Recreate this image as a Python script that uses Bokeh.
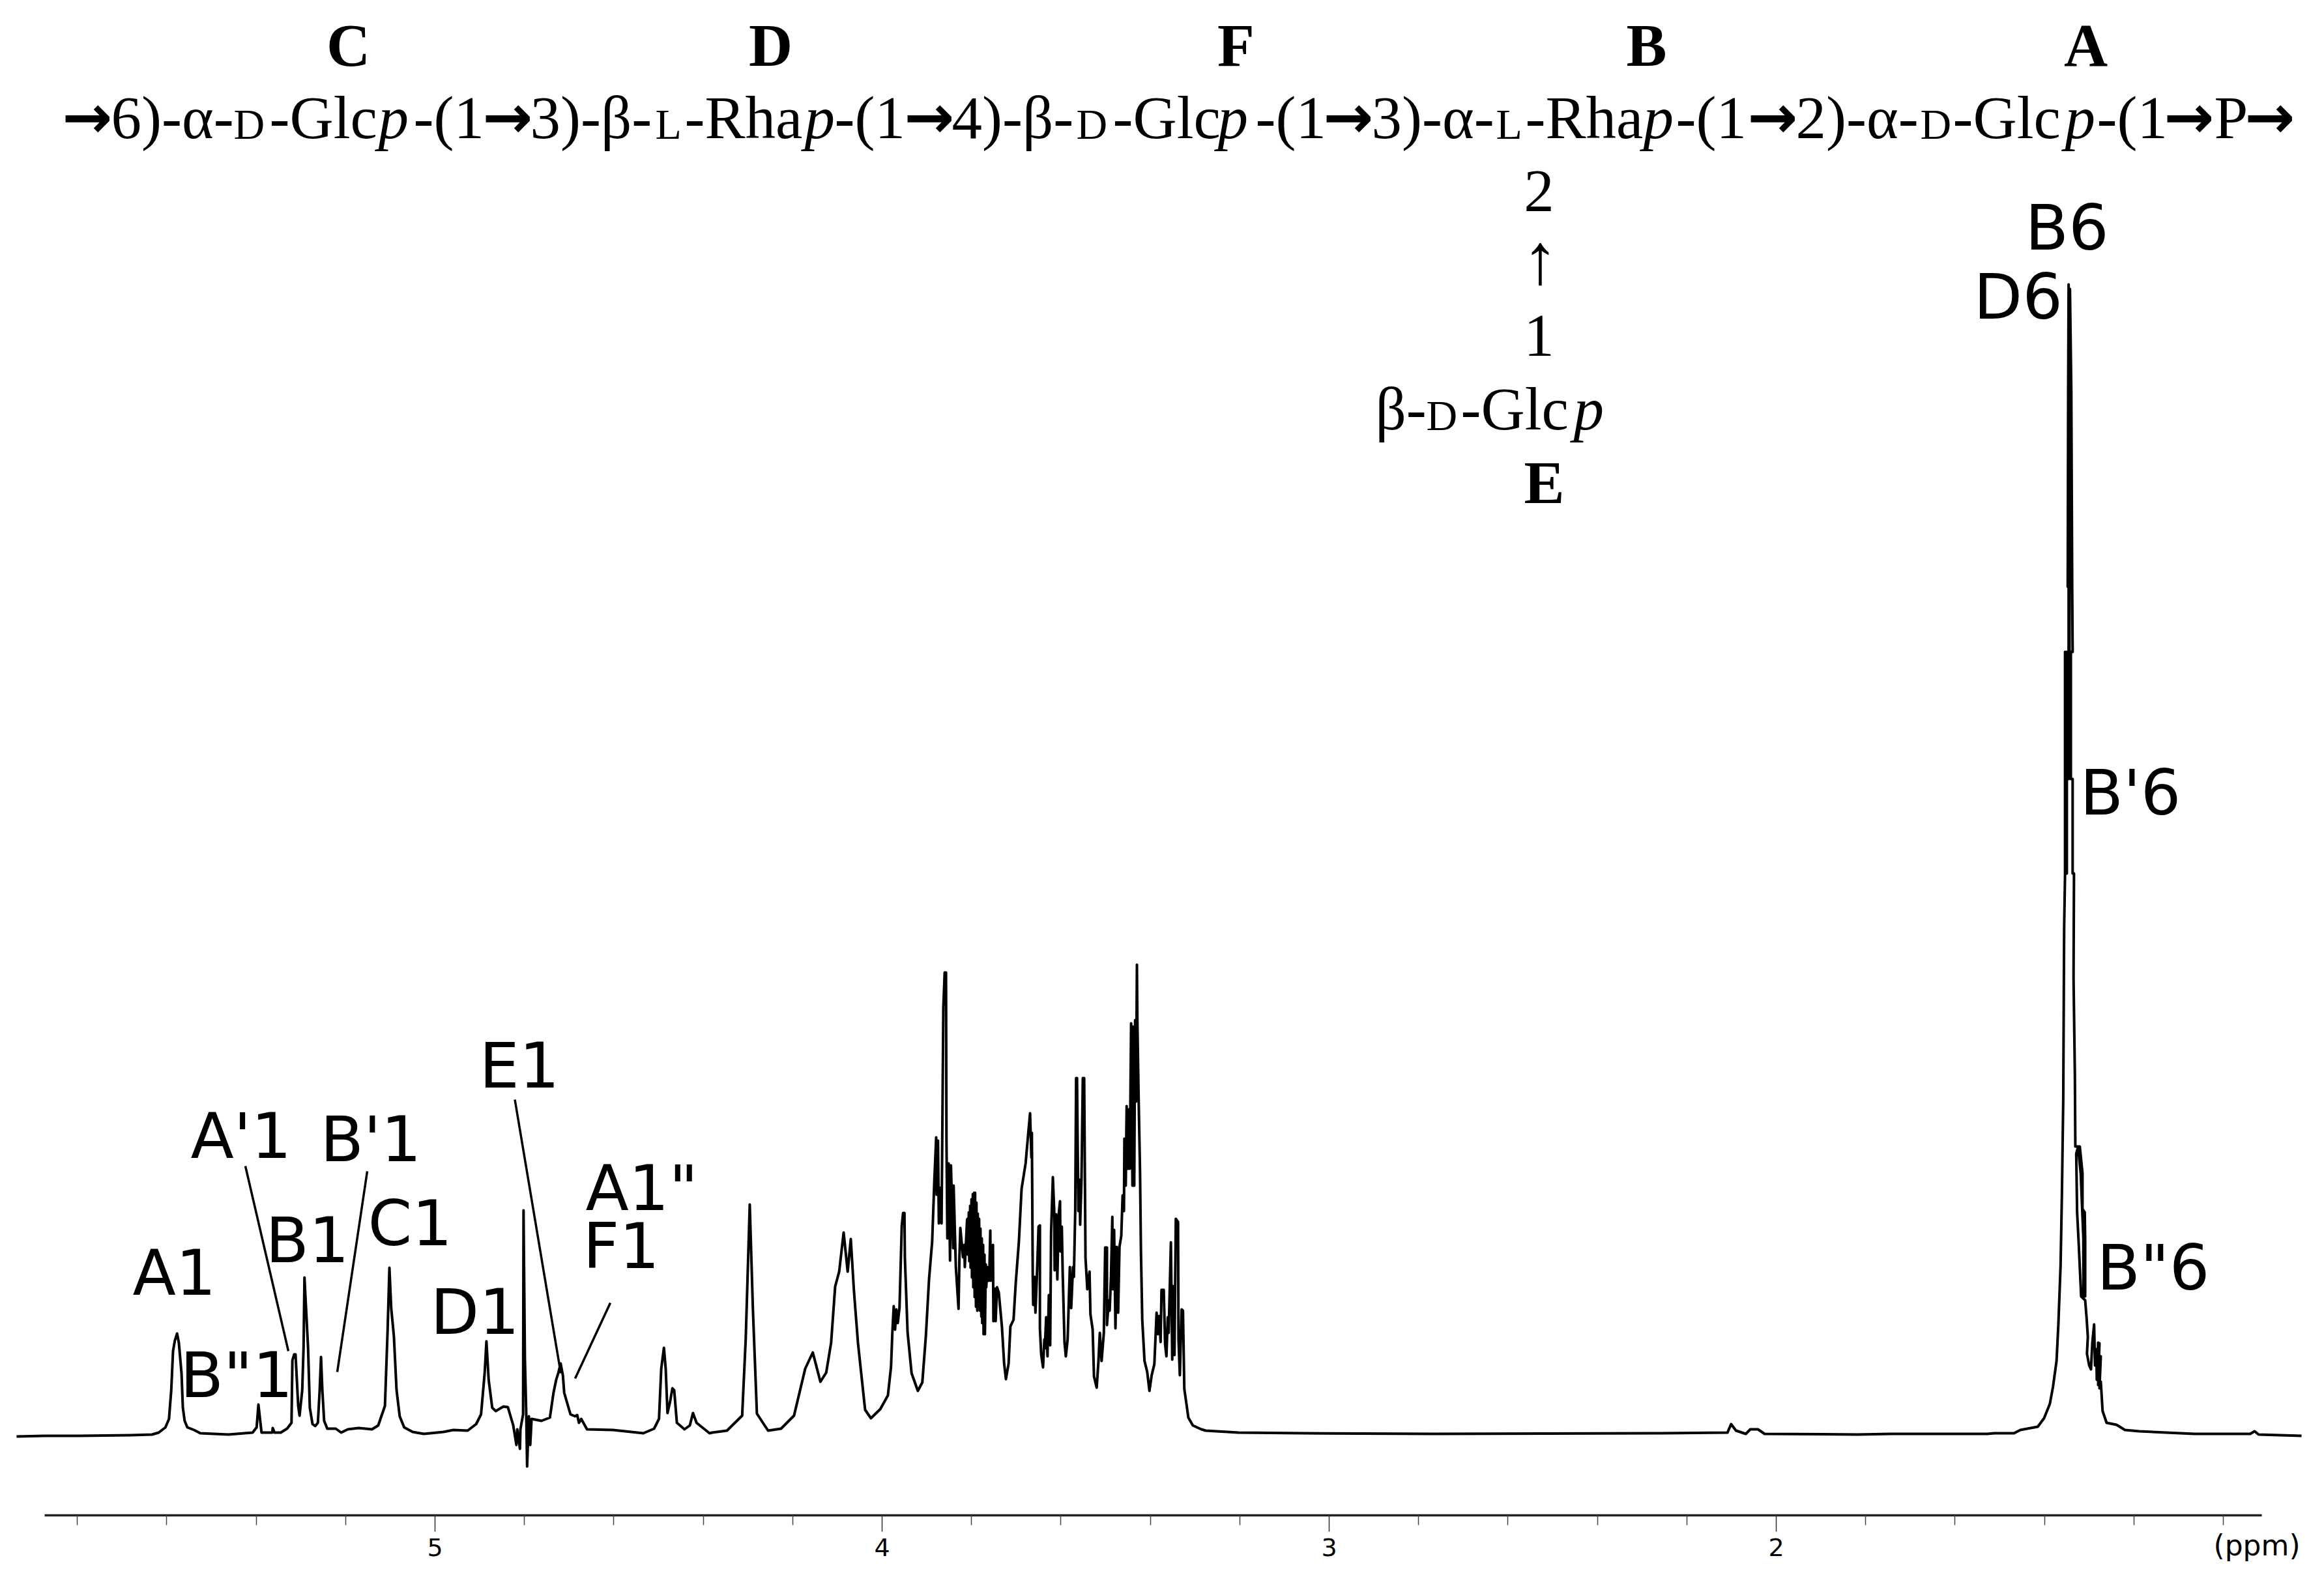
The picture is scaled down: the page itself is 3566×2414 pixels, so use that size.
from bokeh.plotting import figure
from bokeh.models import Range1d, LinearAxis, FixedTicker
from bokeh.core.properties import value
from bokeh.embed import file_html
from bokeh.resources import INLINE

# ---- spectrum: ppm and intensity (arbitrary units) ----
ppm_anomeric_a = [5.936,5.873,5.797,5.681,5.633,5.618,5.603,5.595,5.590,5.586,5.582,5.577,5.573,5.567,5.564,5.560,5.554,5.539,5.525,5.462,5.408,5.399,5.395,5.391,5.388,5.379,5.364,5.363,5.359,5.345,5.331,5.321,5.319,5.315,5.312,5.306,5.303,5.297,5.294,5.292,5.289,5.284,5.280,5.274,5.268,5.262,5.258,5.255,5.252,5.248,5.241,5.222,5.210,5.195,5.171,5.141,5.127,5.112,5.106,5.102,5.098,5.092,5.086,5.079,5.069,5.050,5.025]
int_anomeric_a = [-0.1,0,0,0.1,0.2,0.5,1.3,2.6,7.0,13,14.6,15.7,14.3,9.6,4.3,2.3,1.3,0.9,0.4,0.2,0.5,1.3,4.8,2.3,0.5,0.5,0.5,1.2,0.5,0.5,1.1,2.0,11.6,12.5,12.5,4.6,3.1,7,13.6,24.3,20.3,13.6,4.3,1.8,1.5,2,7,12.1,7,2.3,1.1,1.1,0.5,1.0,1.2,1.0,1.6,4.6,16.3,25.8,19.6,15.3,7,3,1.3,0.6,0.3]

ppm_anomeric_b = [4.981,4.959,4.927,4.908,4.897,4.889,4.885,4.880,4.872,4.864,4.847,4.837,4.825,4.818,4.816,4.810,4.809,4.803,4.802,4.799,4.796,4.794,4.790,4.787,4.784,4.762,4.743,4.735,4.729,4.724,4.719,4.714,4.711,4.697,4.687,4.682,4.678,4.673,4.660,4.602,4.534,4.510,4.499,4.494,4.488,4.484,4.480,4.474,4.469,4.465,4.459,4.442,4.430,4.423,4.415,4.386]
int_anomeric_b = [0.6,0.9,0.8,1.8,3.3,9.6,14.5,8.6,4.3,3.8,4.5,4.4,1.6,-1.4,1.0,-2.0,1.0,3.3,34.6,12.0,3.6,-4.7,3.0,-1.4,2.6,2.3,2.8,6.6,8.6,9.7,11.1,9.3,6.6,3.3,3.0,3.2,2.0,2.6,1.0,0.9,0.4,1.1,2.6,10.3,13.5,10.3,3.5,5.3,7.3,7.0,2.0,1.0,1.6,3.5,2.0,0.4]

ppm_ring_a = [4.380,4.347,4.313,4.305,4.296,4.289,4.280,4.255,4.226,4.197,4.172,4.155,4.138,4.125,4.114,4.105,4.096,4.086,4.077,4.070,4.063,4.054,4.038,4.025,4.004,3.987,3.980,3.977,3.974,3.971,3.968,3.965,3.961,3.956,3.953,3.950,3.949,3.943,3.934,3.920,3.910,3.902,3.895,3.888,3.883,3.879,3.878,3.875,3.873,3.869,3.867,3.863,3.860,3.857,3.856,3.854,3.851,3.848,3.846,3.841,3.840,3.835,3.829,3.827,3.825,3.819,3.816,3.815,3.810]
int_ring_a = [0.5,0.8,3.1,14.9,35.5,19.5,3.4,0.8,1.1,3.1,10.3,12.8,8.3,9.7,14.3,22.9,25.2,31.2,25.2,30.2,22.3,14.3,4.0,2.7,4.1,6.2,10.6,15.9,19.9,16.3,19.4,17.3,19.7,32.2,34.2,34.2,27.3,15.9,9.6,6.9,8.2,15.4,24,29.8,39.4,45.8,37,45.3,32.6,38.1,32.6,65.7,71.1,71.1,45.6,30.3,41.8,26.9,41.5,28.8,38.4,25.9,19.5,27.4,31.9,27.4,29.3,25.9,33.1]

ppm_ring_b = [3.809,3.808,3.806,3.805,3.803,3.802,3.800,3.799,3.797,3.796,3.794,3.793,3.792,3.790,3.789,3.787,3.786,3.784,3.783,3.781,3.780,3.778,3.777,3.776,3.774,3.773,3.771,3.770,3.768,3.767]
int_ring_b = [33.3,27.8,34.3,26.8,35.3,25.8,36.3,24.3,37.1,22.8,37.3,21.3,37.3,19.8,35.8,19.2,34.1,20.3,33.3,19.2,31.8,18.3,30.3,17.3,29.3,15.6,27.8,15.6,26.3,22.8]

ppm_ring_c = [3.765,3.762,3.760,3.758,3.757,3.752,3.751,3.748,3.746,3.743,3.739,3.732,3.727,3.723,3.717,3.713,3.706,3.701,3.694,3.688,3.679,3.673,3.669,3.666,3.665,3.663,3.662,3.659,3.657,3.654,3.650,3.647,3.647,3.644,3.640,3.637,3.636,3.633,3.630,3.627,3.624,3.622,3.618,3.615,3.614,3.611,3.608,3.605,3.602,3.601,3.598,3.596,3.592,3.589,3.585,3.580,3.577,3.573,3.571,3.568,3.566,3.564,3.561,3.558,3.557,3.554,3.551,3.548,3.545,3.541,3.536,3.534,3.529,3.526,3.520,3.516,3.513,3.509,3.504,3.501,3.497,3.497]
int_ring_c = [25.9,23.8,25.3,31.5,23.8,29.3,17.6,22.6,17.6,22.8,22.0,16.8,11.1,8.7,11.1,16.8,17.8,23.5,29.8,37.9,41.8,46.5,49.5,42.7,46.5,24.5,20.1,24.4,18.9,24,32.1,32.3,16.5,12.4,10.5,14.8,13.4,18.2,12.2,21.6,13.9,31.2,39.7,34.5,25.4,34,24,34,36,28.3,32.1,24.9,14.4,12.2,14.8,25.9,19.6,25.9,24.4,34.5,54.9,54.9,34.5,39.3,32.4,39.3,54.9,54.9,27.3,22.5,25.2,18.7,16.3,9.1,7.4,11.5,15.8,11.5,15.8,28.9,28.9,17]

ppm_ring_d = [3.493,3.491,3.488,3.485,3.484,3.481,3.478,3.475,3.472,3.469,3.465,3.462,3.459,3.458,3.455,3.453,3.450,3.448,3.446,3.443,3.440,3.439,3.436,3.434,3.432,3.430,3.429,3.426,3.423,3.421,3.418,3.413,3.407,3.402,3.397,3.391,3.386,3.383,3.380,3.377,3.375,3.370,3.367,3.364,3.361,3.359,3.354,3.351,3.350,3.346,3.343,3.338,3.337,3.334,3.330,3.327,3.324,3.319,3.315,3.305,3.286,3.276]
int_ring_d = [20.8,19.2,24.4,33.6,22.5,31.6,16.5,29,18.9,29,30.7,36.9,34.5,45.6,38.4,50.6,41,50.1,41,63.3,38.4,62.8,38.4,63.8,51.3,72.3,63.8,51.3,40.3,28.3,17.7,11.5,9.8,6.9,9.3,11,18.9,15.6,18.4,14.4,22.4,22.4,14.1,12.2,18.2,15.8,29.7,11.7,23,12.4,33.3,32.8,14.8,9.3,19.4,19.2,7.2,4.8,2.8,1.6,1.0,0.8]

ppm_flat = [3.203,3.057,2.765,2.255,2.109,2.101,2.090,2.068,2.058,2.041,2.026,1.818,1.745,1.528]
int_flat = [0.5,0.4,0.3,0.4,0.5,1.8,0.8,0.3,1.0,1.0,0.3,0.2,0.3,0.3]

ppm_methyl_rise = [1.512,1.468,1.454,1.415,1.401,1.388,1.381,1.373,1.369,1.364,1.361,1.358,1.356,1.354,1.354,1.350,1.350,1.350,1.346,1.346,1.348,1.347,1.346,1.344,1.343]
int_methyl_rise = [0.4,0.4,0.9,1.4,2.7,4.9,7.5,11.5,17,26.1,37.1,51.7,78,86.3,120.3,120.3,86.3,100.8,100.8,130.3,130.3,160.3,176.7,120.3,176]

ppm_methyl_fall = [1.340,1.338,1.337,1.341,1.341,1.337,1.337,1.334,1.335,1.332,1.331,1.321,1.315,1.315,1.310,1.309,1.309,1.313,1.313,1.319,1.325,1.329,1.327,1.324,1.318,1.309,1.306,1.303,1.305,1.300,1.296,1.293,1.289,1.287,1.284,1.283,1.280,1.277,1.280,1.274,1.277,1.274,1.270,1.261,1.239,1.220,1.188,1.064,0.940,0.930,0.921,0.825]
int_methyl_fall = [160.3,130.3,120.3,120.3,100.8,100.8,86.3,86.3,70.3,55.3,44.4,44.4,40.3,34.8,34.3,30.3,21.4,21.4,30.3,40.3,44.3,43.3,34.3,30.3,21.4,20.8,18.3,15.2,12.6,10.8,10.2,14.3,17.1,10.8,13.3,8.6,14.3,14.2,7.8,12.2,7.3,8.3,3.8,2.0,1.7,0.9,0.7,0.3,0.3,0.7,0.2,0]

ppm_major_ticks = [5, 4, 3, 2]
ppm_minor_ticks = [5.8,5.6,5.4,5.2,4.8,4.6,4.4,4.2,3.8,3.6,3.4,3.2,2.8,2.6,2.4,2.2,1.8,1.6,1.4,1.2,1.0]

peak_labels = ["A1","A'1","B'1","B1","C1","D1","E1",'B"1','A1"',"F1","B6","D6","B'6",'B"6']

ppm = ppm_anomeric_a + ppm_anomeric_b + ppm_ring_a + ppm_ring_b + ppm_ring_c + ppm_ring_d + ppm_flat + ppm_methyl_rise + ppm_methyl_fall
intensity = int_anomeric_a + int_anomeric_b + int_ring_a + int_ring_b + int_ring_c + int_ring_d + int_flat + int_methyl_rise + int_methyl_fall
assert len(ppm) == len(intensity)

# ---- layout helpers: page pixel -> data position (only for annotations) ----
def X(px):
    return 5 - (px - 667) / 686
def Y(py):
    return (2203 - py) / 10

W, H = 3562, 2410
p = figure(width=W, height=H, output_backend="svg", toolbar_location=None,
           x_range=Range1d(X(0), X(W)), y_range=Range1d(Y(H), Y(0)),
           x_axis_type=None, y_axis_type=None,
           min_border_left=0, min_border_right=0, min_border_top=0, min_border_bottom=0)
p.outline_line_color = None
p.grid.visible = False

axis = LinearAxis(ticker=FixedTicker(ticks=ppm_major_ticks, minor_ticks=ppm_minor_ticks),
                  bounds=(0.914, 5.873), fixed_location=Y(2325))
axis.axis_line_color = "#222222"
axis.axis_line_width = 3.5
axis.major_tick_in = 0
axis.minor_tick_in = 0
axis.major_tick_out = 25
axis.minor_tick_out = 15
axis.major_tick_line_color = "#333333"
axis.minor_tick_line_color = "#444444"
axis.major_tick_line_width = 1.5
axis.minor_tick_line_width = 1.5
axis.major_label_text_font = "DejaVu Sans"
axis.major_label_text_font_size = "38px"
axis.major_label_text_color = "black"
axis.major_label_standoff = 10
p.add_layout(axis, "below")

p.line(ppm, intensity, line_color="black", line_width=4, line_join="round")

# leader lines
lead = [(376,1789,442,2073),(563,1797,517,2105),(789.5,1687,860,2107),(936,1999,882,2115)]
p.segment([X(a[0]) for a in lead],[Y(a[1]) for a in lead],[X(a[2]) for a in lead],[Y(a[3]) for a in lead],
          line_color="black", line_width=3.5)

# vertical correction of the alphabetic baseline as rendered, in em
SHIFT = 0.35

def txt(items, py, size, font, style="normal", align="left"):
    p.text([X(a[1]) for a in items],[Y(py - SHIFT*size)]*len(items),text=[a[0] for a in items],
           text_font=value(font),text_font_size=f"{size}px",text_font_style=style,
           text_color="black",text_align=align,text_baseline="alphabetic")

# peak labels: left edge and baseline on the page
pos = [(203,1987),(292,1777),(491,1782),(407,1937),(564,1911),(660,2047),(735,1669),(276,2144),
       (898,1857),(894,1946),(3107,383),(3028,489),(3191,1250),(3217,1979)]
for lab, (px, py) in zip(peak_labels, pos):
    txt([(lab, px)], py, 97, "DejaVu Sans")

SERIF = "Liberation Serif"
# structure: residues
txt([("C",534),("D",1182),("F",1896),("B",2526),("A",3200)],102,93,SERIF,"bold","center")
txt([("E",2369)],773,93,SERIF,"bold","center")

# main chain
BASE = 213
txt([("6)-α-",170),("-Glc",413),("-(1",634),("3)-β-",813),("-Rha",1050),("-(1",1280),("4)-β-",1460),
     ("-Glc",1707),("-(1",1926),("3)-α-",2104),("-Rha",2340),("-(1",2571),("2)-α-",2755),("-Glc",2996),
     ("-(1",3217),("P",3397)],BASE,93,SERIF)
txt([("D",358),("L",1005),("D",1651),("L",2295),("D",2946)],BASE,66,SERIF)
txt([("p",580),("p",1234),("p",1868),("p",2521),("p",3168)],BASE,93,SERIF,"italic")
txt([("→",95),("→",740),("→",1387),("→",2030),("→",2681),("→",3320),("→",3444)],211,92,"DejaVu Sans","bold")

# side chain
txt([("2",2361)],326,93,SERIF,"normal","center")
txt([("↑",2363)],436,110,SERIF,"bold","center")
txt([("1",2361)],548,93,SERIF,"normal","center")
txt([("β-",2110),("-Glc",2241)],660,93,SERIF)
txt([("D",2188)],660,66,SERIF)
txt([("p",2414)],660,93,SERIF,"italic")

txt([("(ppm)",3396)],2386,44,"DejaVu Sans")

open("out.html", "w").write(file_html(p, INLINE))
